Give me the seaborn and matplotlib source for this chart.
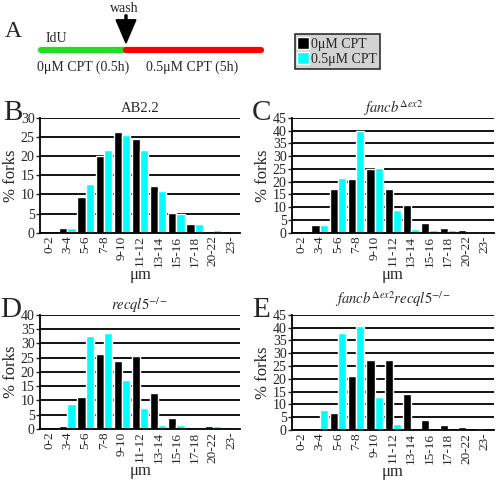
import pandas as pd
import matplotlib.pyplot as plt
import seaborn as sns
from matplotlib.patches import FancyArrow

bins = ['0-2', '3-4', '5-6', '7-8', '9-10', '11-12', '13-14', '15-16', '17-18', '20-22', '23-']
series = ['0\u03bcM CPT', '0.5\u03bcM CPT']

ab22_ctrl = [0, 1.2, 9.4, 20.1, 26.4, 24.5, 12.2, 5.1, 2.3, 0.4, 0.4]
ab22_cpt = [0, 1.3, 12.7, 21.7, 25.4, 21.7, 10.8, 5.0, 2.4, 0.8, 0.4]
fancb_ctrl = [0, 3.0, 17.0, 21.0, 25.0, 17.0, 11.0, 4.0, 2.0, 1.0, 0.5]
fancb_cpt = [0, 3.0, 21.5, 40.0, 25.5, 9.0, 1.5, 1.0, 1.0, 0.5, 0.3]
recql5_ctrl = [0, 1.1, 11.2, 26.2, 23.8, 25.5, 12.6, 4.0, 0.8, 0.9, 0.6]
recql5_cpt = [0, 8.8, 32.5, 33.7, 17.2, 7.2, 1.2, 1.2, 0.8, 0.9, 0.6]
dbl_ctrl = [0, 0, 6.6, 21.1, 27.2, 27.2, 14.1, 3.8, 2.0, 1.0, 0.5]
dbl_cpt = [0, 7.8, 37.8, 40.8, 12.8, 2.3, 0, 0, 0, 0, 0]

sns.set_theme(style="white")
plt.rcParams['font.family'] = ['Liberation Serif', 'DejaVu Serif']
plt.rcParams['mathtext.fontset'] = 'stix'

fig = plt.figure(figsize=(4.96, 4.83), dpi=100)
colors = ['black', '#00FFFF']

# letter, title, values, ymax, axes rect, title y, letter x
panels = [
    ('B', 'AB2.2', ab22_ctrl, ab22_cpt, 30, [0.081, 0.518, 0.403, 0.238], 0.776, 0.006),
    ('C', r'$fancb^{\Delta ex2}$', fancb_ctrl, fancb_cpt, 45, [0.589, 0.518, 0.406, 0.238], 0.776, 0.508),
    ('D', r'$recql5^{-/-}$', recql5_ctrl, recql5_cpt, 40, [0.081, 0.112, 0.403, 0.236], 0.369, 0.0),
    ('E', r'$fancb^{\Delta ex2}recql5^{-/-}$', dbl_ctrl, dbl_cpt, 45, [0.589, 0.110, 0.406, 0.238], 0.381, 0.508),
]

for letter, title, ctrl, cpt, ymax, rect, ty, lx in panels:
    ax = fig.add_axes(rect)
    df = pd.DataFrame({
        'bin': bins * 2,
        'pct': ctrl + cpt,
        'cond': [series[0]] * len(bins) + [series[1]] * len(bins),
    })
    sns.barplot(data=df, x='bin', y='pct', hue='cond', palette=colors,
                width=0.9, saturation=1, ax=ax, legend=True)
    handles, labels = ax.get_legend_handles_labels()
    ax.get_legend().remove()
    ax.set_ylim(0, ymax)
    ax.set_xlim(-0.5, len(bins) - 0.5)
    ax.set_yticks(range(0, ymax + 1, 5))
    ax.yaxis.grid(True, color='black', lw=1.3)
    ax.set_axisbelow(True)
    for s in ['top', 'right']:
        ax.spines[s].set_visible(False)
    for s in ['left', 'bottom']:
        ax.spines[s].set_color('black')
        ax.spines[s].set_linewidth(1.3)
    ax.tick_params(axis='y', left=True, length=3, width=1, labelsize=10, pad=1)
    ax.tick_params(axis='x', length=0, labelsize=9.5, rotation=90, pad=2)
    ax.set_ylabel('% forks', fontsize=12, labelpad=1)
    ax.set_xlabel('\u03bcm', fontsize=12, labelpad=0)
    fig.text(rect[0] + rect[2] / 2, ty, title, ha='center', va='center', fontsize=10.5)
    fig.text(lx, rect[1] + rect[3] + 0.01, letter, fontsize=21, va='center')

# panel A: timeline schematic
fig.text(0.01, 0.934, 'A', fontsize=17, va='center')
fig.add_artist(plt.Line2D([0.083, 0.254], [0.896, 0.896], color='#22DD22', lw=4.5))
fig.add_artist(plt.Line2D([0.254, 0.527], [0.896, 0.896], color='red', lw=4.5))
fig.text(0.091, 0.921, 'IdU', fontsize=10, va='center')
fig.text(0.25, 0.983, 'wash', fontsize=10, ha='center', va='center')
fig.add_artist(FancyArrow(0.254, 0.969, 0, -0.058, width=0.004,
                          head_width=0.04, head_length=0.048,
                          length_includes_head=True, color='black'))
fig.text(0.168, 0.86, '0\u03bcM CPT (0.5h)', fontsize=10, ha='center', va='center')
fig.text(0.387, 0.86, '0.5\u03bcM CPT (5h)', fontsize=10, ha='center', va='center')

leg = fig.legend(handles, labels, loc='upper left', bbox_to_anchor=(0.594, 0.93),
                 fontsize=10, frameon=True, fancybox=False, handlelength=0.8,
                 handleheight=1.0, handletextpad=0.2, borderpad=0.2, labelspacing=0.1,
                 borderaxespad=0)
leg.get_frame().set_facecolor('#C8C8C8')
leg.get_frame().set_edgecolor('black')
leg.get_frame().set_linewidth(1.2)

plt.savefig('out.png', dpi=100)
